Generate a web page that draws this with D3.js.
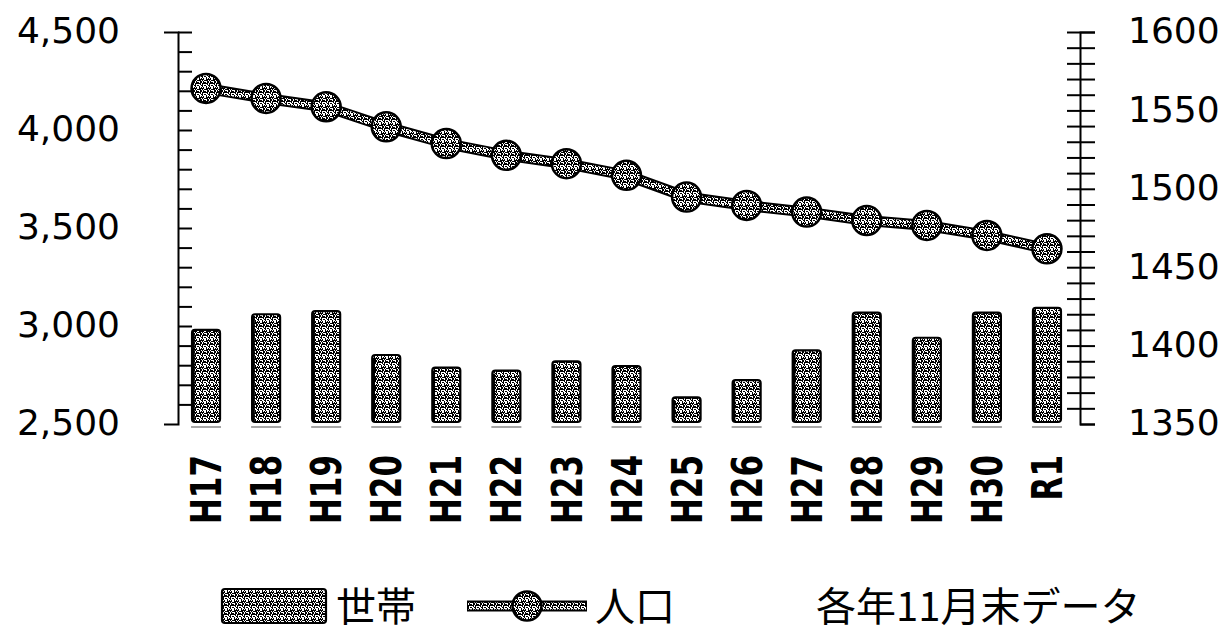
<!DOCTYPE html>
<html>
<head>
<meta charset="utf-8">
<script src="https://cdn.jsdelivr.net/npm/d3@7"></script>
<style>
  html, body { margin: 0; padding: 0; background: #fff; }
  svg { display: block; }
</style>
</head>
<body>
<svg id="chart" width="1231" height="633"></svg>
<script>
// Fiscal years (Heisei 17 .. Reiwa 1)
const years = ["H17", "H18", "H19", "H20", "H21", "H22", "H23", "H24", "H25", "H26", "H27", "H28", "H29", "H30", "R1"];
// Households (right axis)
const households = [1410, 1420, 1422, 1394, 1386, 1384, 1390, 1387, 1367, 1378, 1397, 1421, 1405, 1421, 1424];
// Population (left axis)
const population = [4212, 4161, 4118, 4016, 3931, 3871, 3828, 3769, 3658, 3615, 3581, 3538, 3513, 3462, 3394];

const leftLabels = [2500, 3000, 3500, 4000, 4500];
const rightLabels = [1350, 1400, 1450, 1500, 1550, 1600];
const legendHouseholds = "世帯";
const legendPopulation = "人口";
const note = "各年11月末データ";

const svg = d3.select("#chart");

// Speckled fill used by the bars and the line
const defs = svg.append("defs");
const pat = defs.append("pattern")
  .attr("id", "speckle")
  .attr("patternUnits", "userSpaceOnUse")
  .attr("width", 7).attr("height", 9);
pat.append("rect").attr("width", 7).attr("height", 9).attr("fill", "#fff");
[[0,0,1,3],[2,1,1,2],[4,0,1,4],[6,2,1,3],[1,4,2,1],[3,5,1,3],[5,6,1,2],[0,6,1,2],[2,8,2,1],[6,7,1,2],
 [5,4,1,1],[3,2,1,1],[1,1,1,2],[5,0,1,2],[4,7,1,2],[1,8,1,1],[6,5,1,1]]
  .forEach(([x, y, w, h]) => pat.append("rect")
    .attr("x", x).attr("y", y).attr("width", w).attr("height", h).attr("fill", "#000"));

// Scales
const axisLeftX = 178, axisRightX = 1080;
const yTop = 32, yBottom = 424;
const x = d3.scaleBand().domain(years).range([176, 1077]);
const yL = d3.scaleLinear().domain([2500, 4500]).range([yBottom, yTop]);
const yR = d3.scaleLinear().domain([1350, 1600]).range([yBottom, yTop]);
const cx = d => x(d) + x.bandwidth() / 2;

// Household bars
const barW = 28;
const barData = years.map((yr, i) => ({ yr, v: households[i] }));
const bars = svg.append("g");
bars.selectAll("rect.bar")
  .data(barData)
  .join("rect")
  .attr("class", "bar")
  .attr("x", d => cx(d.yr) - barW / 2)
  .attr("y", d => yR(d.v))
  .attr("width", barW)
  .attr("height", d => yR(1350) - 2 - yR(d.v))
  .attr("rx", 3)
  .attr("fill", "url(#speckle)")
  .attr("stroke", "#000")
  .attr("stroke-width", 2.2);
// heavier left edge on each bar
bars.selectAll("line.edge")
  .data(barData)
  .join("line")
  .attr("class", "edge")
  .attr("x1", d => cx(d.yr) - barW / 2 + 1.5).attr("x2", d => cx(d.yr) - barW / 2 + 1.5)
  .attr("y1", d => yR(d.v) + 3).attr("y2", yR(1350) - 3)
  .attr("stroke", "#000").attr("stroke-width", 2.5);
// floor shadow under each bar
bars.selectAll("line.floor")
  .data(years)
  .join("line")
  .attr("class", "floor")
  .attr("x1", d => cx(d) - barW / 2 - 1).attr("x2", d => cx(d) + barW / 2 + 1)
  .attr("y1", yR(1350) + 3).attr("y2", yR(1350) + 3)
  .attr("stroke", "#888").attr("stroke-width", 1.5);

// Population line with markers
const pts = years.map((yr, i) => [cx(yr), yL(population[i])]);
const lineGen = d3.line();
const lg = svg.append("g");
lg.append("path").attr("d", lineGen(pts)).attr("fill", "none")
  .attr("stroke", "#000").attr("stroke-width", 11).attr("stroke-linejoin", "round");
lg.append("path").attr("d", lineGen(pts)).attr("fill", "none")
  .attr("stroke", "url(#speckle)").attr("stroke-width", 7).attr("stroke-linejoin", "round");
lg.selectAll("circle")
  .data(pts)
  .join("circle")
  .attr("cx", d => d[0]).attr("cy", d => d[1]).attr("r", 14.5)
  .attr("fill", "url(#speckle)")
  .attr("stroke", "#000").attr("stroke-width", 2.5);

// Left axis: minor ticks every 100 crossing the axis line
const gL = svg.append("g").attr("transform", `translate(${axisLeftX},0)`);
gL.call(d3.axisLeft(yL).tickValues(d3.range(2500, 4501, 100)).tickFormat("").tickSizeOuter(0).tickSize(14));
gL.selectAll(".tick line").attr("x2", (d) => d === 2500 ? 0 : 14).attr("stroke-width", 2);
gL.select(".domain").attr("stroke-width", 2);
const gLl = svg.append("g").attr("transform", `translate(${axisLeftX},0)`);
gLl.call(d3.axisLeft(yL).tickValues(leftLabels).tickFormat(d3.format(",")).tickSize(0).tickPadding(58));
gLl.select(".domain").remove();
gLl.selectAll("text").attr("font-family", "DejaVu Sans").attr("font-size", 36).attr("fill", "#000").attr("dy", "0.28em");

// Right axis: ticks every 10 crossing the axis line
const gR = svg.append("g").attr("transform", `translate(${axisRightX},0)`);
gR.call(d3.axisRight(yR).tickValues(d3.range(1350, 1601, 10)).tickFormat("").tickSizeOuter(0).tickSize(15));
gR.selectAll(".tick line").attr("x1", d => d === 1350 ? 0 : -13).attr("stroke-width", 2);
gR.select(".domain").attr("stroke-width", 2);
const gRl = svg.append("g").attr("transform", `translate(${axisRightX},0)`);
gRl.call(d3.axisRight(yR).tickValues(rightLabels).tickFormat(d3.format("d")).tickSize(0).tickPadding(48));
gRl.select(".domain").remove();
gRl.selectAll("text").attr("font-family", "DejaVu Sans").attr("font-size", 36).attr("fill", "#000").attr("dy", "0.3em");

// Category labels, rotated
svg.append("g").selectAll("text")
  .data(years)
  .join("text")
  .attr("transform", d => `translate(${cx(d)},455) rotate(-90) scale(1,1.35)`)
  .attr("text-anchor", "end")
  .attr("dy", "0.36em")
  .attr("font-family", "DejaVu Sans")
  .attr("font-weight", "bold")
  .attr("font-size", 31)
  .attr("fill", "#000")
  .text(d => d);

// Legend
const leg = svg.append("g");
leg.append("rect").attr("x", 222).attr("y", 589).attr("width", 104).attr("height", 34).attr("rx", 3)
  .attr("fill", "url(#speckle)").attr("stroke", "#000").attr("stroke-width", 2.2);
leg.append("text").attr("x", 336).attr("y", 607).attr("dy", "0.36em")
  .attr("font-family", "Noto Sans CJK JP").attr("font-size", 40).attr("fill", "#000").text(legendHouseholds);
leg.append("line").attr("x1", 467).attr("x2", 587).attr("y1", 606).attr("y2", 606)
  .attr("stroke", "#000").attr("stroke-width", 11);
leg.append("line").attr("x1", 468).attr("x2", 586).attr("y1", 606).attr("y2", 606)
  .attr("stroke", "url(#speckle)").attr("stroke-width", 7);
leg.append("circle").attr("cx", 527).attr("cy", 606).attr("r", 14.5)
  .attr("fill", "url(#speckle)").attr("stroke", "#000").attr("stroke-width", 2.5);
leg.append("text").attr("x", 595).attr("y", 607).attr("dy", "0.36em")
  .attr("font-family", "Noto Sans CJK JP").attr("font-size", 40).attr("fill", "#000").text(legendPopulation);
leg.append("text").attr("x", 816).attr("y", 607).attr("dy", "0.36em")
  .attr("font-family", "Noto Sans CJK JP").attr("font-size", 40).attr("fill", "#000").text(note);
</script>
</body>
</html>
